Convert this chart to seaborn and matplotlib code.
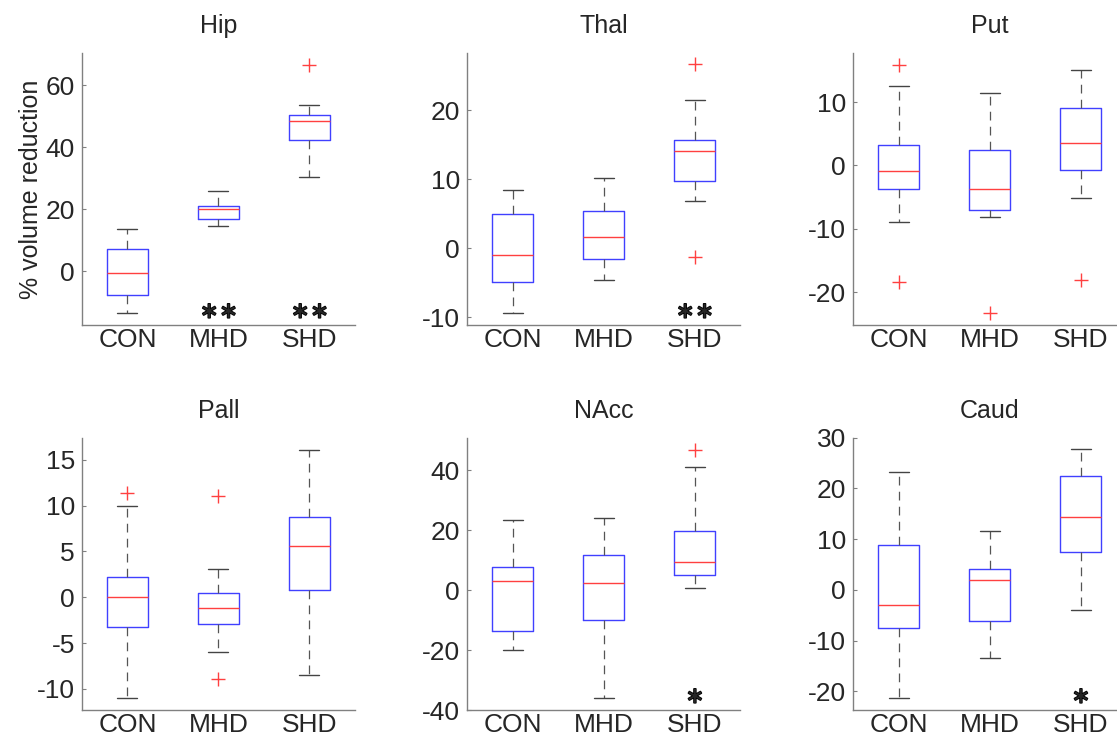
"""
Regional volume reduction boxplots (CON / MHD / SHD)
"""

import matplotlib
matplotlib.use('Agg')
import matplotlib.pyplot as plt
import matplotlib.patheffects as pe
import seaborn as sns

# 数据
groups = ['CON', 'MHD', 'SHD']
regions = ['Hip', 'Thal', 'Put', 'Pall', 'NAcc', 'Caud']

whisker_low = [[-13.4, 14.7, 30.3], [-9.3, -4.6, 6.9], [-9.0, -8.1, -5.2],
               [-11.0, -6.0, -8.5], [-20.1, -36.0, 0.6], [-21.4, -13.4, -4.0]]
q1 = [[-7.7, 16.8, 42.2], [-4.9, -1.5, 9.8], [-3.7, -7.0, -0.7],
      [-3.2, -2.9, 0.8], [-13.7, -9.9, 5.1], [-7.6, -6.2, 7.4]]
median = [[-0.5, 20.0, 48.4], [-0.9, 1.7, 14.1], [-0.9, -3.7, 3.6],
          [0.0, -1.2, 5.6], [3.1, 2.4, 9.3], [-3.0, 1.9, 14.3]]
q3 = [[7.3, 21.0, 50.3], [5.0, 5.4, 15.7], [3.3, 2.5, 9.1],
      [2.2, 0.5, 8.7], [7.7, 11.7, 19.6], [8.9, 4.2, 22.4]]
whisker_high = [[13.8, 25.8, 53.6], [8.5, 10.1, 21.5], [12.5, 11.4, 15.1],
                [10.0, 3.1, 16.1], [23.2, 24.1, 41.0], [23.2, 11.7, 27.8]]
outliers = [[[], [], [66.6]], [[], [], [26.6, -1.2]], [[15.9, -18.4], [-23.3], [-18.1]],
            [[11.4], [11.0, -8.9], []], [[], [], [46.8]], [[], [], []]]
significance = [['', '**', '**'], ['', '', '**'], ['', '', ''],
                ['', '', ''], ['', '', '*'], ['', '', '*']]

y_limits = [(-17.3, 70.5), (-11.1, 28.3), (-25.2, 17.8),
            (-12.3, 17.4), (-40, 50.8), (-23.7, 30)]
y_ticks = [[0, 20, 40, 60], [-10, 0, 10, 20], [-20, -10, 0, 10],
           [-10, -5, 0, 5, 10, 15], [-40, -20, 0, 20, 40], [-20, -10, 0, 10, 20, 30]]

sns.set_style('ticks')
plt.rcParams['font.family'] = ['Liberation Sans', 'DejaVu Sans']
plt.rcParams['axes.unicode_minus'] = False

fig = plt.figure(figsize=(11.17, 7.4), dpi=100)
lefts = [0.0734, 0.4181, 0.7637]
bottoms = [0.5608, 0.0405]
w, h = 0.2444, 0.368

for i, region in enumerate(regions):
    ax = fig.add_axes([lefts[i % 3], bottoms[i // 3], w, h])
    stats = []
    for j, g in enumerate(groups):
        stats.append({'label': g, 'whislo': whisker_low[i][j], 'q1': q1[i][j],
                      'med': median[i][j], 'q3': q3[i][j],
                      'whishi': whisker_high[i][j], 'fliers': outliers[i][j]})
    ax.bxp(stats, positions=[1, 2, 3], widths=0.45, capwidths=0.22,
           boxprops=dict(color='#4040ff', linewidth=1.0),
           medianprops=dict(color='#ff4040', linewidth=1.0),
           whiskerprops=dict(color='#555555', linewidth=0.9, linestyle=(0, (7, 5))),
           capprops=dict(color='#444444', linewidth=1.0),
           flierprops=dict(marker='+', markeredgecolor='#ff4040', markersize=10,
                           markeredgewidth=1.0, linestyle='none'))

    # 显著性标记
    for j, s in enumerate(significance[i]):
        if s:
            star = r'\!'.join([r'\ast'] * len(s))
            ax.text(j + 1, 0.008, '$' + star + '$', transform=ax.get_xaxis_transform(),
                    ha='center', va='bottom', fontsize=16, math_fontfamily='dejavusans',
                    path_effects=[pe.withStroke(linewidth=1.2, foreground='black')])

    ax.set_xlim(0.5, 3.5)
    ax.set_ylim(*y_limits[i])
    ax.set_yticks(y_ticks[i])
    ax.set_xticks([1, 2, 3])
    ax.set_xticklabels(groups)
    ax.set_title(region, fontsize=18, pad=14)
    ax.tick_params(axis='y', direction='in', length=3, width=0.8,
                   color='#808080', labelsize=19, pad=5)
    ax.tick_params(axis='x', length=0, labelsize=19, pad=2)
    sns.despine(ax=ax)
    for sp in ['left', 'bottom']:
        ax.spines[sp].set_color('#808080')
        ax.spines[sp].set_linewidth(1.0)
    if region == 'Hip':
        ax.set_ylabel('% volume reduction', fontsize=18, labelpad=2)

plt.savefig('out.png', dpi=100)
